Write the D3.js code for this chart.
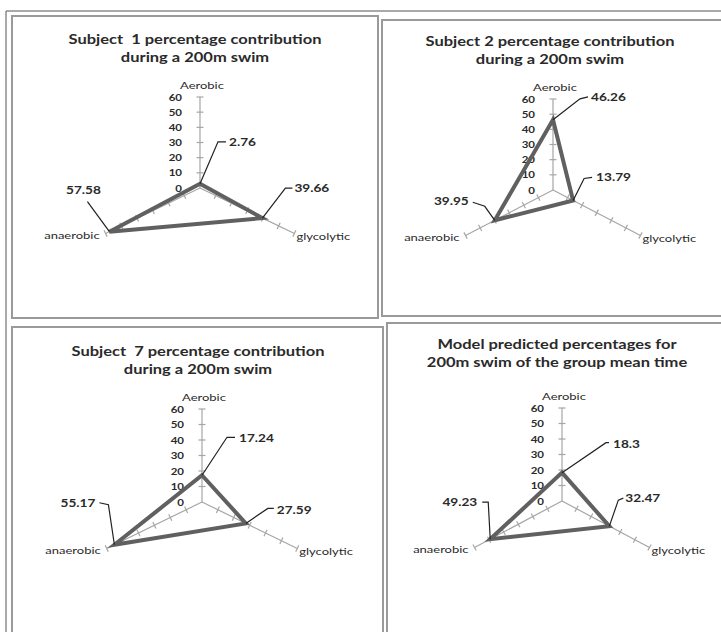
<!DOCTYPE html>
<html>
<head>
<meta charset="utf-8">
<script src="https://cdn.jsdelivr.net/npm/d3@7"></script>
<style>
  body { margin: 0; background: #fff; }
  svg { display: block; }
  text { font-family: Lato, "Open Sans", sans-serif; fill: #2a2a2a; }
</style>
</head>
<body>
<script>
// data
const axisNames = ["Aerobic", "glycolytic", "anaerobic"];
const tickValues = [0, 10, 20, 30, 40, 50, 60];
const titles = [
  ["Subject  1 percentage contribution", "during a 200m swim"],
  ["Subject 2 percentage contribution", "during a 200m swim"],
  ["Subject  7 percentage contribution", "during a 200m swim"],
  ["Model predicted percentages for", "200m swim of the group mean time"]
];
const subject1 = [2.76, 39.66, 57.58];
const subject2 = [46.26, 13.79, 39.95];
const subject7 = [17.24, 27.59, 55.17];
const modelMean = [18.3, 32.47, 49.23];

const width = 721, height = 632;
const svg = d3.select("body").append("svg")
  .attr("width", width)
  .attr("height", height);

// the source picture is stretched sideways, so text is too
const stretch = 1.3;
function label(g, x, y, str, size, weight, anchor, k = stretch) {
  return g.append("text")
    .attr("transform", `translate(${x},${y}) scale(${k},1)`)
    .attr("text-anchor", anchor)
    .attr("font-size", size)
    .attr("font-weight", weight)
    .style("white-space", "pre")
    .text(str);
}

// frame
svg.append("path")
  .attr("d", `M6,${height} V11 H${width}`)
  .attr("fill", "none").attr("stroke", "#555").attr("stroke-width", 1);

// panel layout: box, centre, radii, title place, leader shapes
const panels = [
  { values: subject1, title: titles[0], box: [12, 16, 378, 318],
    cx: 200, cy: 188, rx: 109, ry: 91, tx: 195, ty: 44,
    leaders: [
      { pts: [[0, 0], [18, -42], [26, -42]], t: [29, -42], anchor: "start" },
      { pts: [[0, 0], [23, -30], [30, -30]], t: [32, -30], anchor: "start" },
      { pts: [[0, 0], [-22, -30]], t: [-26, -42], anchor: "middle" }
    ] },
  { values: subject2, title: titles[1], box: [382, 20, 730, 316],
    cx: 553, cy: 190, rx: 101, ry: 91, tx: 550, ty: 46,
    leaders: [
      { pts: [[0, 0], [27, -21], [35, -23]], t: [38, -23], anchor: "start" },
      { pts: [[0, 0], [11, -22], [19, -23]], t: [23, -23], anchor: "start" },
      { pts: [[0, 0], [-10, -14], [-22, -18]], t: [-26, -19], anchor: "end" }
    ] },
  { values: subject7, title: titles[2], box: [12, 327, 383, 640],
    cx: 202, cy: 502, rx: 110, ry: 93, tx: 198, ty: 356,
    leaders: [
      { pts: [[0, 0], [25, -38], [33, -38]], t: [37, -37], anchor: "start" },
      { pts: [[0, 0], [22, -15], [28, -15]], t: [31, -13], anchor: "start" },
      { pts: [[0, 0], [-6, -40], [-15, -42]], t: [-19, -42], anchor: "end" }
    ] },
  { values: modelMean, title: titles[3], box: [387, 323, 730, 640],
    cx: 562, cy: 501, rx: 101, ry: 93, tx: 557, ty: 349,
    leaders: [
      { pts: [[0, 0], [44, -30], [47, -30]], t: [51, -29], anchor: "start" },
      { pts: [[0, 0], [9, -26], [14, -28]], t: [16, -28], anchor: "start" },
      { pts: [[0, 0], [-2, -37], [-8, -37]], t: [-13, -37], anchor: "end" }
    ] }
];

// axis angles: up, lower right, lower left
const angles = [-90, 30, 150].map(a => a * Math.PI / 180);

panels.forEach(p => {
  const g = svg.append("g");
  const [x0, y0, x1, y1] = p.box;
  g.append("rect")
    .attr("x", x0).attr("y", y0)
    .attr("width", x1 - x0).attr("height", y1 - y0)
    .attr("fill", "none").attr("stroke", "#9a9a9a").attr("stroke-width", 2);

  // title
  p.title.forEach((line, i) => {
    label(g, p.tx, p.ty + i * 18, line, 12.5, "bold", "middle", 1.32);
  });

  const sx = d3.scaleLinear().domain([0, 60]).range([0, p.rx]);
  const sy = d3.scaleLinear().domain([0, 60]).range([0, p.ry]);
  const pos = (v, i) => [
    p.cx + sx(v) * Math.cos(angles[i]),
    p.cy + sy(v) * Math.sin(angles[i])
  ];

  // axes with ticks
  angles.forEach((a, i) => {
    const end = pos(60, i);
    g.append("line")
      .attr("x1", p.cx).attr("y1", p.cy)
      .attr("x2", end[0]).attr("y2", end[1])
      .attr("stroke", "#a6a6a6").attr("stroke-width", 1.2);
    const dx = end[0] - p.cx, dy = end[1] - p.cy;
    const len = Math.hypot(dx, dy);
    const nx = -dy / len * 3.5, ny = dx / len * 3.5;
    g.selectAll(null).data(tickValues.slice(1)).enter().append("line")
      .attr("x1", v => pos(v, i)[0] - nx).attr("y1", v => pos(v, i)[1] - ny)
      .attr("x2", v => pos(v, i)[0] + nx).attr("y2", v => pos(v, i)[1] + ny)
      .attr("stroke", "#a6a6a6").attr("stroke-width", 1.2);
  });

  // value labels along the Aerobic axis
  tickValues.forEach(v => {
    label(g, p.cx - 18, pos(v, 0)[1] + 3.5, v, 10, "bold", "end", 1.15);
  });

  // axis names
  const top = pos(60, 0), right = pos(60, 1), left = pos(60, 2);
  label(g, top[0] + 2, top[1] - 8, axisNames[0], 10, "normal", "middle");
  label(g, right[0] + 2, right[1] + 6, axisNames[1], 10, "normal", "start");
  label(g, left[0] - 6, left[1] + 5, axisNames[2], 10, "normal", "end");

  // series polygon
  const verts = p.values.map((v, i) => pos(v, i));
  g.append("path")
    .attr("d", d3.line()(verts) + "Z")
    .attr("fill", "none").attr("stroke", "#606060")
    .attr("stroke-width", 4).attr("stroke-linejoin", "miter");

  // data labels with leader lines
  p.values.forEach((v, i) => {
    const [vx, vy] = verts[i];
    const L = p.leaders[i];
    g.append("path")
      .attr("d", d3.line()(L.pts.map(q => [vx + q[0], vy + q[1]])))
      .attr("fill", "none").attr("stroke", "#222").attr("stroke-width", 1.2);
    label(g, vx + L.t[0], vy + L.t[1] + 4, v, 10.5, "bold", L.anchor);
  });
});
</script>
</body>
</html>
